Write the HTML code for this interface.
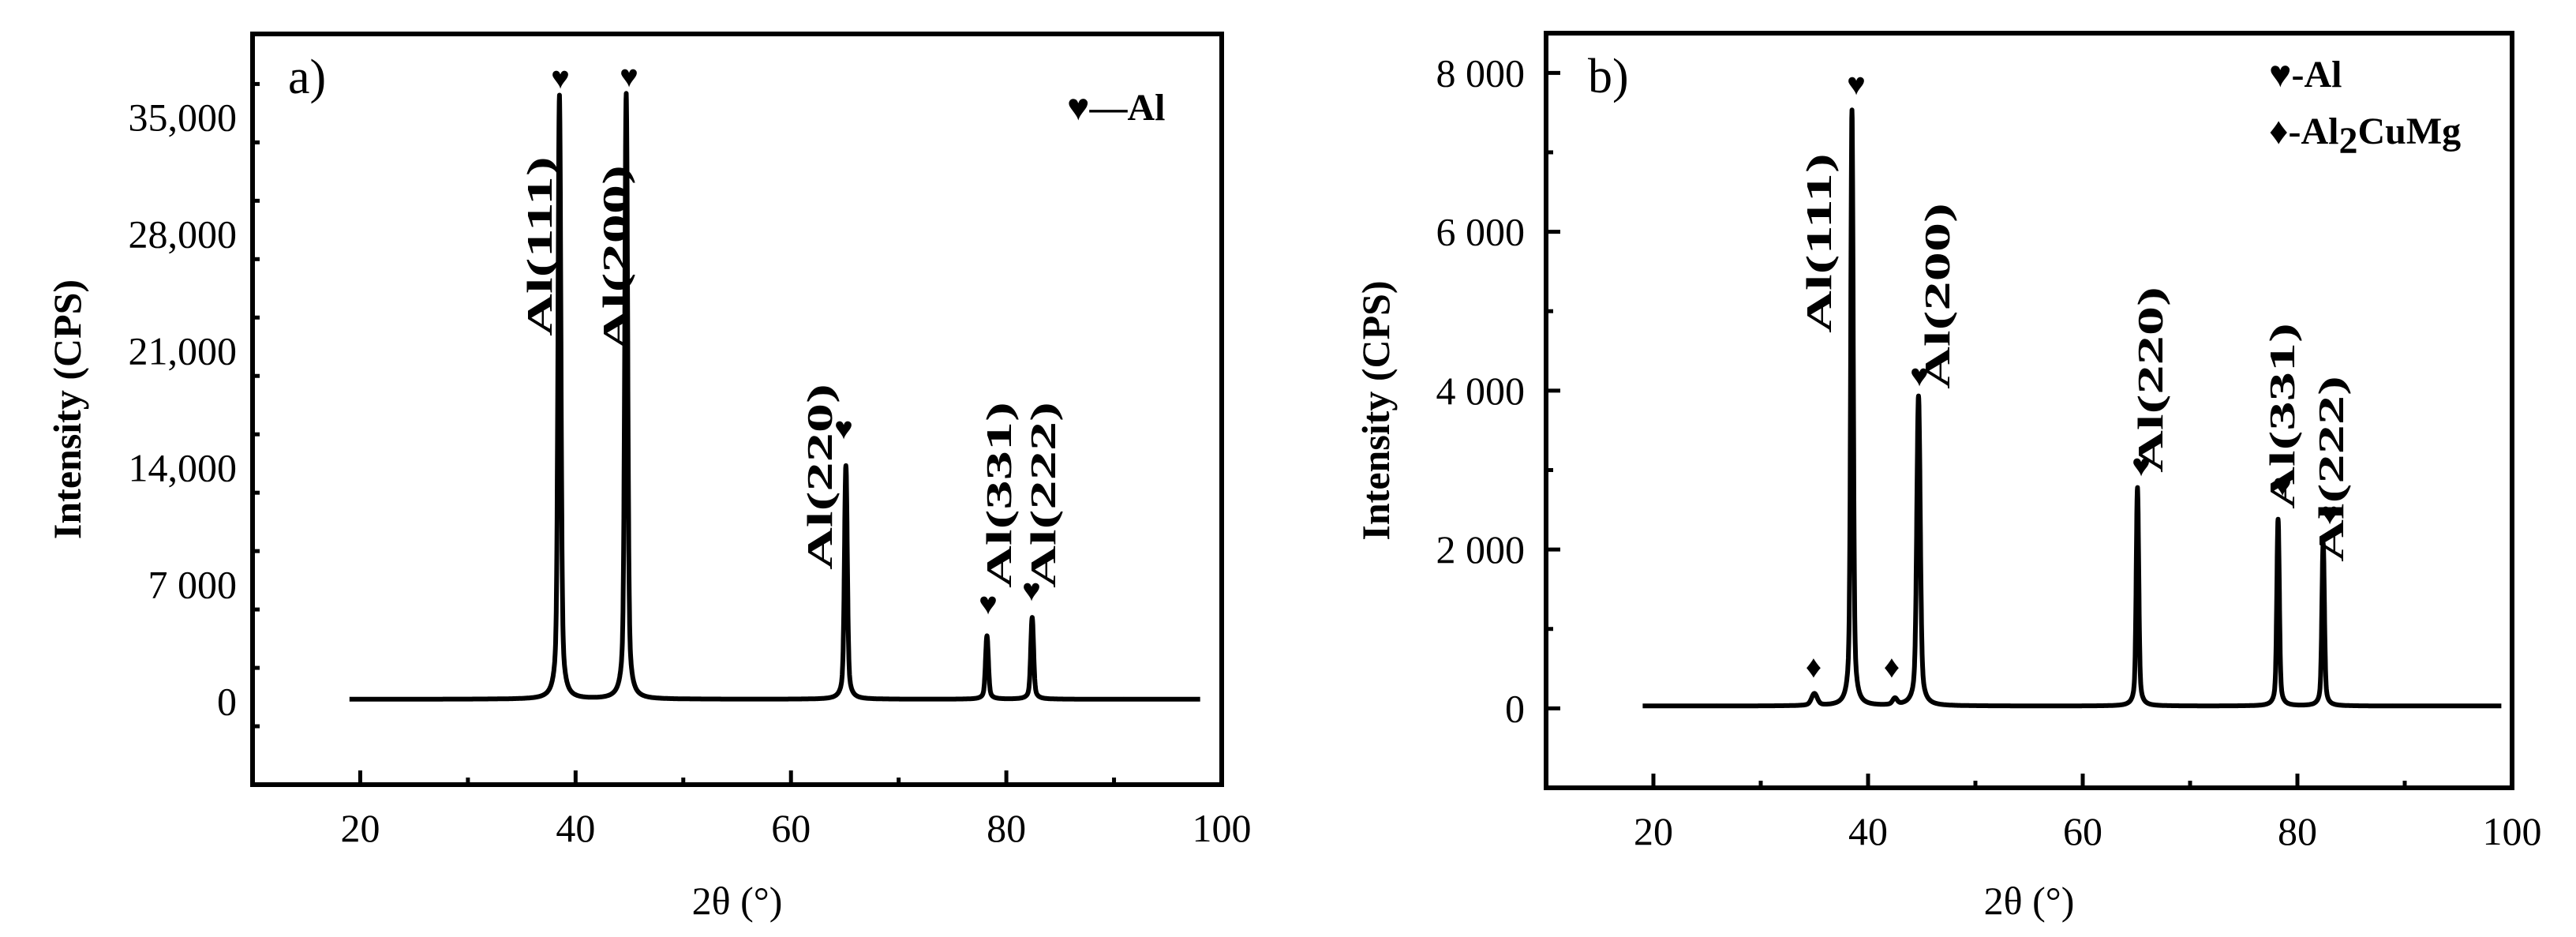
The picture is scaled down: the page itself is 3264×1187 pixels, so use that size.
<!DOCTYPE html>
<html><head><meta charset="utf-8"><style>
html,body{margin:0;padding:0;background:#fff;}
svg{display:block;}
text{font-family:"Liberation Serif","DejaVu Serif",serif;fill:#000;}
.b{font-weight:bold;}
</style></head><body>
<svg id="fig" width="3264" height="1187" viewBox="0 0 3264 1187" xmlns="http://www.w3.org/2000/svg"></svg>
<script>
// Panel a data
const peaksA2T = [38.5, 44.7, 65.1, 78.2, 82.4];
const peaksAInt = [36200, 36300, 14000, 3800, 4900];
const peaksAWidth = [0.25, 0.25, 0.25, 0.25, 0.25];
const baseA = 120;
const yTicksA = [0, 7000, 14000, 21000, 28000, 35000];
const yTickLabelsA = ["0", "7 000", "14,000", "21,000", "28,000", "35,000"];
// Panel b data
const peaksB2T = [35.0, 38.5, 42.5, 44.7, 65.1, 78.2, 82.4];
const peaksBInt = [150, 7500, 80, 3900, 2750, 2350, 2050];
const peaksBWidth = [0.5, 0.22, 0.4, 0.3, 0.22, 0.22, 0.22];
const baseB = 30;
const yTicksB = [0, 2000, 4000, 6000, 8000];
const yTickLabelsB = ["0", "2 000", "4 000", "6 000", "8 000"];
const xTicks = [20, 40, 60, 80, 100];
const labelsA = ["Al(111)", "Al(200)", "Al(220)", "Al(331)", "Al(222)"];
const labelsB = ["Al(111)", "Al(200)", "Al(220)", "Al(331)", "Al(222)"];

const NS = "http://www.w3.org/2000/svg";
const svg = document.getElementById('fig');
function el(tag, attrs, parent, txt){
  const e = document.createElementNS(NS, tag);
  for (const k in attrs) e.setAttribute(k, attrs[k]);
  if (txt !== undefined) e.textContent = txt;
  (parent || svg).appendChild(e);
  return e;
}

function panel(cfg){
  const g = el('g', {});
  
  
  const X = v => cfg.L + (v - 10) / 90 * (cfg.R - cfg.L);
  const Y = v => cfg.T + (cfg.ymax - v) / (cfg.ymax - cfg.ymin) * (cfg.B - cfg.T);
  const fr = el('rect', {x:cfg.L, y:cfg.T, width:cfg.R-cfg.L, height:cfg.B-cfg.T, fill:'none', stroke:'#000', 'stroke-width':6}, g);
  
  
  for (let v = 10; v <= 100; v += 10) {
    const major = v % 20 === 0;
    const t = el('line', {x1:X(v), x2:X(v), y1:cfg.B, y2:cfg.B-(major?18:9), stroke:'#000', 'stroke-width':5}, g);
    
    
  }
  xTicks.forEach(v => {
    const t = el('text', {x:X(v), y:cfg.B+72, 'font-size':50, 'text-anchor':'middle'}, g, String(v));
    
    
  });
  for (let v = cfg.ymin; v <= cfg.ymax + 1; v += cfg.minor) {
    const major = Math.abs(v % cfg.major) < 1;
    const t = el('line', {x1:cfg.L, x2:cfg.L+(major?18:9), y1:Y(v), y2:Y(v), stroke:'#000', 'stroke-width':5}, g);
    
    
  }
  cfg.yTicks.forEach((v, i) => {
    const t = el('text', {x:cfg.labelX, y:Y(v)+17, 'font-size':50, 'text-anchor':'end'}, g, cfg.yLabels[i]);
    
    
  });
  const xt = el('text', {x:(cfg.L+cfg.R)/2, y:1158, 'font-size':50, 'text-anchor':'middle'}, g, '2θ (°)');
  
  
  const yt = el('text', {x:0, y:0, 'font-size':50, 'text-anchor':'middle', class:'b', transform:`translate(${cfg.titleX},${(cfg.T+cfg.B)/2}) rotate(-90)`}, g, 'Intensity (CPS)');
  
  
  let d = '';
  for (let x = 19; x <= cfg.xEnd; x += 0.02) {
    let y = cfg.base;
    for (let i = 0; i < cfg.p2t.length; i++) {
      const w = cfg.pw[i], dx = x - cfg.p2t[i];
      y += cfg.pi[i] * (0.75 * Math.exp(-dx*dx/(2*w*w/4)) + 0.25 / (1 + dx*dx/(w*w)));
    }
    d += (d ? 'L' : 'M') + X(x).toFixed(1) + ',' + Y(y).toFixed(1);
  }
  const c = el('path', {d:d, fill:'none', stroke:'#000', 'stroke-width':6, 'stroke-linejoin':'round'}, g);
  
  
  const pl = el('text', {x:cfg.letterX, y:cfg.T+75, 'font-size':62}, g, cfg.letter);
  
  
  return {g, X, Y};
}

function rot(g, x, y, s){
  const t = el('text', {x:0, y:15, 'font-size':46, class:'b', 'text-anchor':'middle', transform:`translate(${x},${y}) rotate(-90) scale(1.62,1)`}, g, s);
  
  
}
function mark(g, x, y, ch, name){
  const t = el('text', {x:x, y:y, 'font-size':40, 'text-anchor':'middle', 'font-family':'DejaVu Sans'}, g, ch);
  
  
}

const A = panel({name:'panel-a', L:320, R:1548, T:43, B:994, ymin:-5000, ymax:40000, minor:3500, major:7000,
  yTicks:yTicksA, yLabels:yTickLabelsA, labelX:300, titleX:102, letter:'a)', letterX:365,
  p2t:peaksA2T, pi:peaksAInt, pw:peaksAWidth, base:baseA, xEnd:98});
rot(A.g, 684, 312, labelsA[0]);
rot(A.g, 780, 327, labelsA[1]);
rot(A.g, 1039, 604, labelsA[2]);
rot(A.g, 1266, 627, labelsA[3]);
rot(A.g, 1322, 627, labelsA[4]);
[[710,112],[797,110],[1069,556],[1252,778],[1307,761]].forEach(p => mark(A.g, p[0], p[1], '♥', 'al-peak-marker'));
const la = el('text', {x:1352, y:152, 'font-size':48, class:'b'}, A.g, '♥—Al');



const B = panel({name:'panel-b', L:1959, R:3183, T:42, B:998, ymin:-1000, ymax:8500, minor:1000, major:2000,
  yTicks:yTicksB, yLabels:yTickLabelsB, labelX:1932, titleX:1760, letter:'b)', letterX:2012,
  p2t:peaksB2T, pi:peaksBInt, pw:peaksBWidth, base:baseB, xEnd:99});
rot(B.g, 2305, 308, labelsB[0]);
rot(B.g, 2455, 375, labelsB[1]);
rot(B.g, 2725, 481, labelsB[2]);
rot(B.g, 2892, 527, labelsB[3]);
rot(B.g, 2954, 594, labelsB[4]);
[[2352,120],[2432,489],[2713,603],[2892,628],[2952,664]].forEach(p => mark(B.g, p[0], p[1], '♥', 'al-peak-marker'));
[[2298,858],[2397,858]].forEach(p => mark(B.g, p[0], p[1], '♦', 'al2cumg-peak-marker'));
const lb1 = el('text', {x:2875, y:110, 'font-size':48, class:'b'}, B.g, '♥-Al');


const lb2 = el('text', {x:2875, y:182, 'font-size':48, class:'b'}, B.g);


el('tspan', {}, lb2, '♦-Al');
el('tspan', {dy:12}, lb2, '2');
el('tspan', {dy:-12}, lb2, 'CuMg');
</script>
</body></html>
